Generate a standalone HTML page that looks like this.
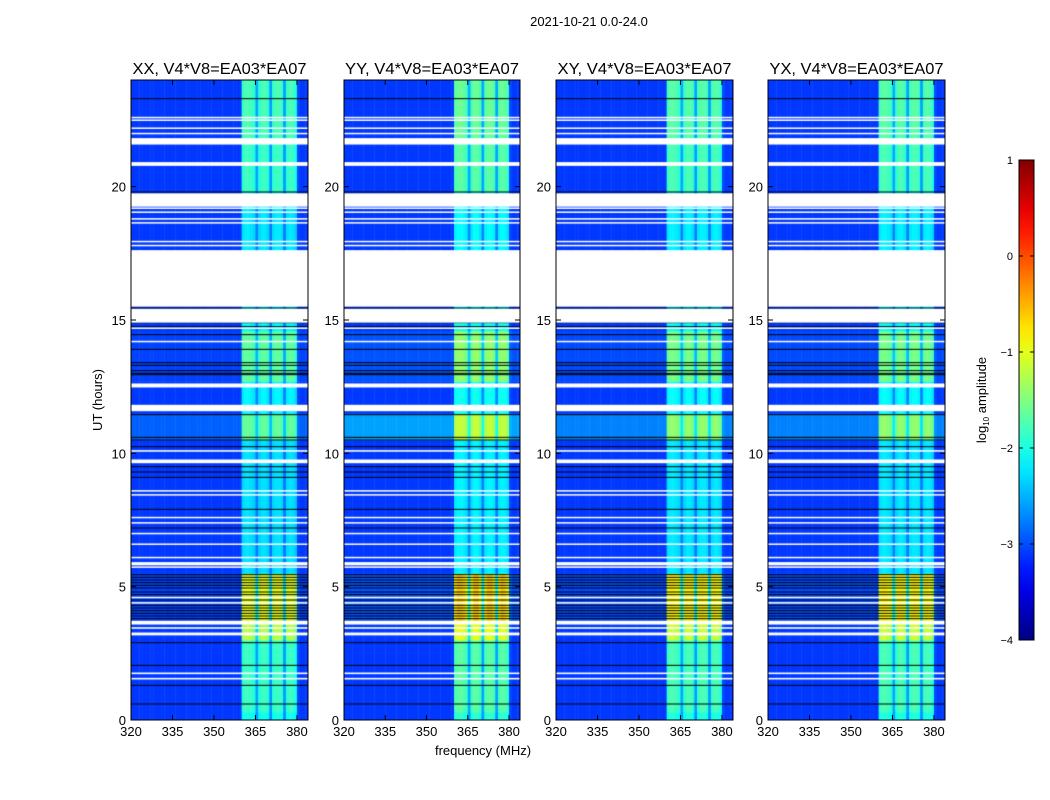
<!DOCTYPE html>
<html><head><meta charset="utf-8"><style>
body{margin:0;background:#fff;font-family:"Liberation Sans",sans-serif;}
#root{position:relative;width:1050px;height:800px;overflow:hidden;background:#fff;}
canvas{position:absolute;}
svg{position:absolute;left:0;top:0;}
</style></head><body>
<div id="root">
<canvas id="c0" width="177" height="640" style="left:131px;top:80px"></canvas>
<canvas id="c1" width="176" height="640" style="left:344px;top:80px"></canvas>
<canvas id="c2" width="177" height="640" style="left:556px;top:80px"></canvas>
<canvas id="c3" width="177" height="640" style="left:768px;top:80px"></canvas>
<svg id="ov" width="1050" height="800"></svg>
</div>
<script>
// ---- data ----
const panelTitles = ["XX, V4*V8=EA03*EA07","YY, V4*V8=EA03*EA07","XY, V4*V8=EA03*EA07","YX, V4*V8=EA03*EA07"];
const panelBandGain = [1.0, 1.12, 1.05, 1.05];
const panelBgGain = [1.0, 2.6, 1.8, 1.8];
const freqStart = 320, freqEnd = 384;
// excess level per 1-MHz channel, 320..383
const chanLevel = [0,0,0,0,0,0,0,0,0,0, 0,0,0,0,0,0,0,0,0,0, 0,0,0,0,0,0,0,0,0,0, 0,0,0,0,0,0,0,0,0,0,
  1.25,1.35,1.35,1.3,1.2, 0.55, 1.2,1.35,1.35,1.2, 0.5, 1.25,1.35,1.35,1.25, 0.5, 1.25,1.35,1.3,1.15, 0.1,0,0,0];
const bgLevel = -3.1;
const segStart = [0, 0.3, 3.0, 3.6, 5.5, 10.5, 11.5, 12.7, 14.6, 15.5, 19.8, 21.8];
const segEnd   = [0.3, 3.0, 3.6, 5.5, 10.5, 11.5, 12.7, 14.6, 15.5, 19.8, 21.8, 24];
const segBandScale = [0.8, 0.95, 1.4, 1.55, 0.62, 0.95, 0.7, 1.05, 0.72, 0.65, 0.95, 1.0];
const segBgAdd = [0, 0, 0, 0.05, 0, 0.2, 0, 0.05, 0, 0, 0, 0];
const whiteStart = [1.52,1.72,3.18,3.23,3.42,3.58,4.38,4.58,5.72,5.8,6.08,6.58,6.98,7.38,7.58,8.43,8.58,9.63,10.06,11.58,12.47,14.18,14.68,14.9,15.5,17.78,17.93,18.63,18.78,19.03,19.18,19.25,20.78,21.58,21.98,22.18,22.48,22.58];
const whiteEnd   = [1.58,1.78,3.23,3.28,3.48,3.72,4.42,4.62,5.76,5.92,6.12,6.62,7.02,7.42,7.62,8.47,8.62,9.77,10.12,11.82,12.62,14.22,14.72,15.42,17.62,17.82,17.97,18.67,18.82,19.07,19.22,19.75,20.92,21.82,22.02,22.22,22.52,22.62];
const blackLines = [0.6,1.3,2.05,2.9,3.8,3.9,4.0,4.1,4.2,4.3,4.5,4.7,4.8,4.95,5.05,5.15,5.25,5.35,5.45,7.2,7.9,9.1,9.3,9.5,10.25,10.5,10.6,11.45,12.95,13.0,13.1,13.3,13.4,13.9,14.45,14.75,14.9,15.45,19.8,23.3];
const yTicks = [0,5,10,15,20];
const xTicks = [320,335,350,365,380];
const cbTicks = [1,0,-1,-2,-3,-4];

// ---- geometry ----
const panelX = [131,344,556,768], panelW = [177,176,177,177];
const top0 = 80, bot0 = 720;
function yScale(h){return bot0 - (h/24)*(bot0-top0);}
function xScale(p,f){return panelX[p] + (f-freqStart)/(freqEnd-freqStart)*panelW[p];}
function jet(v){
  let t=(v+4)/5; t=Math.max(0,Math.min(1,t));
  const cl=x=>Math.max(0,Math.min(1,x));
  const r=cl(Math.min(4*t-1.5,-4*t+4.5)),g=cl(Math.min(4*t-0.5,-4*t+3.5)),b=cl(Math.min(4*t+0.5,-4*t+2.5));
  return `rgb(${Math.round(r*255)},${Math.round(g*255)},${Math.round(b*255)})`;
}
for(let p=0;p<4;p++){
  const ctx=document.getElementById('c'+p).getContext('2d');
  for(let s=0;s<segStart.length;s++){
    for(let c=0;c<chanLevel.length;c++){
      const v = bgLevel + segBgAdd[s]*panelBgGain[p] + chanLevel[c]*segBandScale[s]*panelBandGain[p];
      ctx.fillStyle=jet(v);
      const x0=xScale(p,freqStart+c)-panelX[p], x1=xScale(p,freqStart+c+1)-panelX[p];
      const y0=yScale(segEnd[s])-top0, y1=yScale(segStart[s])-top0;
      ctx.fillRect(x0,y0,x1-x0+0.5,y1-y0+0.5);
    }
  }
  ctx.fillStyle='#000';
  blackLines.forEach(h=>{ctx.fillRect(0,yScale(h)-top0-0.5,panelW[p],1);});
  ctx.fillStyle='#fff';
  for(let i=0;i<whiteStart.length;i++){
    const y0=yScale(whiteEnd[i])-top0,y1=yScale(whiteStart[i])-top0;
    ctx.fillRect(0,y0,panelW[p],Math.max(1.5,y1-y0));
  }
}
// ---- overlay ----
const NS='http://www.w3.org/2000/svg', ov=document.getElementById('ov');
function mk(tag,attrs,txt){const e=document.createElementNS(NS,tag);for(const k in attrs)e.setAttribute(k,attrs[k]);if(txt!==undefined)e.textContent=txt;ov.appendChild(e);return e;}
let t=mk('text',{x:589,y:26,'text-anchor':'middle','font-size':13});t.textContent='2021-10-21 0.0-24.0';


for(let p=0;p<4;p++){
  const x0=panelX[p],w=panelW[p];
  const fr=mk('rect',{x:x0,y:top0,width:w,height:bot0-top0,fill:'none',stroke:'#000','stroke-width':1});
  
  
  const ti=mk('text',{x:x0+w/2,y:74,'text-anchor':'middle','font-size':16,textLength:174,lengthAdjust:'spacingAndGlyphs'},panelTitles[p]);
  
  
  yTicks.forEach(h=>{
    const y=yScale(h);
    mk('line',{x1:x0,x2:x0+5,y1:y,y2:y,stroke:'#000'});
    mk('line',{x1:x0+w-5,x2:x0+w,y1:y,y2:y,stroke:'#000'});
    const l=mk('text',{x:x0-5,y:y+5,'text-anchor':'end','font-size':13},String(h));
    
    
  });
  xTicks.forEach(f=>{
    const x=xScale(p,f);
    mk('line',{x1:x,x2:x,y1:bot0,y2:bot0-5,stroke:'#000'});
    mk('line',{x1:x,x2:x,y1:top0,y2:top0+5,stroke:'#000'});
    const l=mk('text',{x:x,y:736,'text-anchor':'middle','font-size':13},String(f));
    
    
  });
}
let yl=mk('text',{x:0,y:0,transform:'translate(102,400) rotate(-90)','text-anchor':'middle','font-size':13},'UT (hours)');


let xl=mk('text',{x:483,y:755,'text-anchor':'middle','font-size':13},'frequency (MHz)');


// colorbar
const cbX=1019,cbW=15,cbTop=160,cbBot=640;
const defs=mk('defs',{});
const lg=document.createElementNS(NS,'linearGradient');lg.setAttribute('id','jg');lg.setAttribute('x1','0');lg.setAttribute('y1','1');lg.setAttribute('x2','0');lg.setAttribute('y2','0');defs.appendChild(lg);
for(let i=0;i<=20;i++){const st=document.createElementNS(NS,'stop');st.setAttribute('offset',i/20);st.setAttribute('stop-color',jet(-4+5*i/20));lg.appendChild(st);}
const cb=mk('rect',{x:cbX,y:cbTop,width:cbW,height:cbBot-cbTop,fill:'url(#jg)',stroke:'#000'});


function cbY(v){return cbBot-(v+4)/5*(cbBot-cbTop);}
cbTicks.forEach(v=>{
  const y=cbY(v);
  mk('line',{x1:cbX,x2:cbX+4,y1:y,y2:y,stroke:'#000'});
  mk('line',{x1:cbX+cbW-4,x2:cbX+cbW,y1:y,y2:y,stroke:'#000'});
  const l=mk('text',{x:cbX-6,y:y+4,'text-anchor':'end','font-size':11},v<0?'\u2212'+(-v):String(v));
  
  
});
const cl=mk('text',{x:0,y:0,transform:'translate(986,400) rotate(-90)','text-anchor':'middle','font-size':13});
cl.innerHTML='log<tspan font-size="8" dy="3">10</tspan><tspan dy="-3"> amplitude</tspan>';


</script>
</body></html>
